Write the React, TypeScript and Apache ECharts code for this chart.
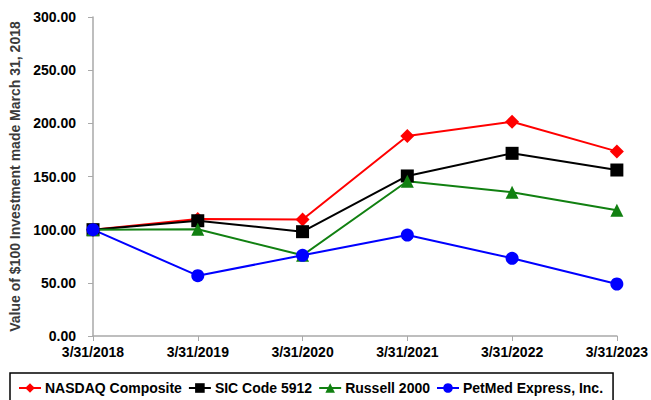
import React, { useEffect, useRef } from "react";
import * as echarts from "echarts";

const categories = ["3/31/2018", "3/31/2019", "3/31/2020", "3/31/2021", "3/31/2022", "3/31/2023"];
const nasdaq = [100, 110.0, 109.6, 188.1, 201.5, 173.6];
const sic5912 = [100, 108.4, 98.1, 150.5, 171.8, 156.1];
const russell = [100, 100.4, 75.9, 145.5, 135.2, 118.2];
const petmed = [100, 56.7, 75.9, 94.9, 73.1, 48.9];

const FONT = "'Liberation Sans', Arial, sans-serif";

export default function App() {
  const ref = useRef<HTMLDivElement>(null);
  useEffect(() => {
    const chart = echarts.init(ref.current!, null, { renderer: "svg" });
    const mk = (name: string, data: number[], color: string, symbol: string, size: number) => ({
      name,
      type: "line",
      data,
      symbol,
      symbolSize: size,
      lineStyle: { color, width: 2 },
      itemStyle: { color },
      color,
    });
    chart.setOption({
      animation: false,
      textStyle: { fontFamily: FONT },
      grid: { left: 93, top: 17, right: 34, bottom: 64 },
      xAxis: {
        type: "category",
        data: categories,
        boundaryGap: false,
        axisLine: { lineStyle: { color: "#a9a9a9", width: 1.5 } },
        axisTick: { lineStyle: { color: "#a9a9a9" }, length: 5 },
        axisLabel: { color: "#000", fontWeight: "bold", fontSize: 14, fontFamily: FONT, margin: 9 },
      },
      yAxis: {
        type: "value",
        min: 0,
        max: 300,
        interval: 50,
        name: "Value of $100 Investment made March 31, 2018",
        nameLocation: "middle",
        nameGap: 66,
        nameTextStyle: { color: "#3a3a3a", fontWeight: "bold", fontSize: 14, fontFamily: FONT },
        axisLine: { show: true, lineStyle: { color: "#a9a9a9", width: 1.5 } },
        axisTick: { show: true, lineStyle: { color: "#a9a9a9" }, length: 5 },
        splitLine: { show: false },
        axisLabel: {
          color: "#000",
          fontWeight: "bold",
          fontSize: 14,
          fontFamily: FONT,
          margin: 17,
          formatter: (v: number) => v.toFixed(2),
        },
      },
      legend: {
        left: 10,
        top: 373,
        orient: "horizontal",
        borderColor: "#000",
        borderWidth: 1.5,
        padding: [8, 10, 8, 8],
        itemGap: 6,
        itemWidth: 22,
        itemHeight: 12,
        textStyle: { color: "#000", fontWeight: "bold", fontSize: 14, fontFamily: FONT, padding: [0, 0, 0, -1] },
        data: ["NASDAQ Composite", "SIC Code 5912", "Russell 2000", "PetMed Express, Inc."],
      },
      series: [
        mk("NASDAQ Composite", nasdaq, "#ff0000", "diamond", 14),
        mk("SIC Code 5912", sic5912, "#000000", "rect", 13),
        mk("Russell 2000", russell, "#118011", "triangle", 13),
        mk("PetMed Express, Inc.", petmed, "#0000ff", "circle", 13),
      ],
    });
    return () => chart.dispose();
  }, []);
  return <div ref={ref} style={{ width: 651, height: 400, position: "fixed", left: 0, top: 0, background: "#fff" }} />;
}
